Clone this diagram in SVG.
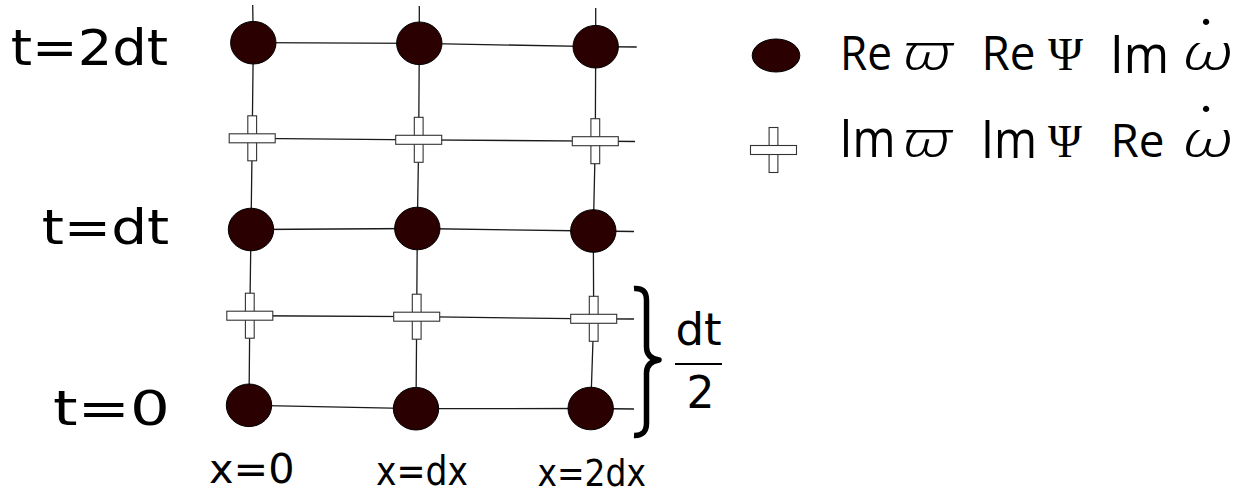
<svg xmlns="http://www.w3.org/2000/svg" width="1249" height="493" viewBox="0 0 1249 493">
<style>
.ln{stroke:#1a1a1a;stroke-width:1.3;fill:none}
.dot{fill:#2a0000;stroke:#000;stroke-width:1}
.bar{fill:#fff;stroke:#333;stroke-width:1.1}
.lbl{font-family:"DejaVu Sans",sans-serif;fill:#000}
.lg{font-family:"Open Sans","DejaVu Sans",sans-serif;fill:#000}
.vp{font-family:"Noto Sans","DejaVu Sans",sans-serif;font-weight:300;font-style:italic;fill:#000}
.mu{font-family:"Liberation Serif","DejaVu Serif",serif;fill:#000}
</style>
<defs>
<g id="cross">
<rect class="bar" x="-4.4" y="-22.5" width="8.8" height="45"/>
<rect class="bar" x="-23" y="-4.5" width="46" height="9"/>
</g>
</defs>
<rect width="1249" height="493" fill="#fff"/>
<g id="connectors">
<polyline class="ln" points="252.7,5 253.3,42.7 252.2,138.3 251,229.5 249.8,315.7 249,405.3"/>
<polyline class="ln" points="419.3,6 419.3,43.3 418.7,139.8 417.3,228.5 416.7,316.7 416,408.7"/>
<polyline class="ln" points="595.7,8 595.7,46.7 595.3,141.2 593.3,231 593.7,318.8 590.7,408.5"/>
<polyline class="ln" points="253.3,42.7 419.3,43.3 595.7,46.7 636.7,47"/>
<polyline class="ln" points="252.2,138.3 418.7,139.8 595.3,141.2 635,141.5"/>
<polyline class="ln" points="251,229.5 417.3,228.5 593.3,231 634,231.5"/>
<polyline class="ln" points="249.8,315.7 416.7,316.7 593.7,318.8 634,319"/>
<polyline class="ln" points="249,405.3 416,408.7 590.7,408.5 634,409"/>
</g>
<g id="n-a1"><ellipse class="dot" cx="253.3" cy="42.7" rx="22.7" ry="21.3"/></g>
<g id="n-a2"><ellipse class="dot" cx="419.3" cy="43.3" rx="22.7" ry="21.3"/></g>
<g id="n-a3"><ellipse class="dot" cx="595.7" cy="46.7" rx="22.7" ry="21.3"/></g>
<g id="n-ab1"><use href="#cross" x="252.2" y="138.3"/></g>
<g id="n-ab2"><use href="#cross" x="418.7" y="139.8"/></g>
<g id="n-ab3"><use href="#cross" x="595.3" y="141.2"/></g>
<g id="n-b1"><ellipse class="dot" cx="251" cy="229.5" rx="22.7" ry="21.3"/></g>
<g id="n-b2"><ellipse class="dot" cx="417.3" cy="228.5" rx="22.7" ry="21.3"/></g>
<g id="n-b3"><ellipse class="dot" cx="593.3" cy="231" rx="22.7" ry="21.3"/></g>
<g id="n-bc1"><use href="#cross" x="249.8" y="315.7"/></g>
<g id="n-bc2"><use href="#cross" x="416.7" y="316.7"/></g>
<g id="n-bc3"><use href="#cross" x="593.7" y="318.8"/></g>
<g id="n-c1"><ellipse class="dot" cx="249" cy="405.3" rx="22.7" ry="21.3"/></g>
<g id="n-c2"><ellipse class="dot" cx="416" cy="408.7" rx="22.7" ry="21.3"/></g>
<g id="n-c3"><ellipse class="dot" cx="590.7" cy="408.5" rx="22.7" ry="21.3"/></g>
<g id="time-labels">
<text class="lbl" x="10.7" y="65" font-size="50" textLength="157.5" lengthAdjust="spacingAndGlyphs">t=2dt</text>
<text class="lbl" x="41.7" y="244" font-size="48" textLength="127.5" lengthAdjust="spacingAndGlyphs">t=dt</text>
<text class="lbl" x="53" y="425" font-size="48" textLength="117" lengthAdjust="spacingAndGlyphs">t=0</text>
</g>
<g id="space-labels">
<text class="lbl" x="209" y="483" font-size="41" textLength="85.5" lengthAdjust="spacingAndGlyphs">x=0</text>
<text class="lbl" x="376" y="484.5" font-size="41" textLength="92" lengthAdjust="spacingAndGlyphs">x=dx</text>
<text class="lbl" x="537.5" y="485.5" font-size="38" textLength="108.5" lengthAdjust="spacingAndGlyphs">x=2dx</text>
</g>
<g id="brace">
<path d="M634,288.5 Q646.5,287.5 646.5,300 L646.5,347 Q646.5,358 659,360 Q646.5,362 646.5,373 L646.5,423 Q646.5,436 634,435.5" fill="none" stroke="#000" stroke-width="5.5" stroke-linejoin="round"/>
<text class="lbl" x="675.5" y="345" font-size="45">dt</text>
<line x1="675" y1="364" x2="722" y2="364" stroke="#000" stroke-width="2"/>
<text class="lbl" x="686.5" y="408.3" font-size="44">2</text>
</g>
<g id="legend-dot">
<ellipse class="dot" cx="776" cy="55.5" rx="23.8" ry="16.5"/>
<text class="lg" x="840" y="70" font-size="48" textLength="52" lengthAdjust="spacingAndGlyphs">Re</text>
<text class="vp" x="902" y="70" font-size="50" textLength="50" lengthAdjust="spacingAndGlyphs">ϖ</text>
<text class="lg" x="981.5" y="70" font-size="47" textLength="54" lengthAdjust="spacingAndGlyphs">Re</text>
<text class="mu" x="1048" y="70" font-size="46" textLength="35" lengthAdjust="spacingAndGlyphs">Ψ</text>
<text class="lg" x="1110" y="72.5" font-size="53" textLength="59" lengthAdjust="spacingAndGlyphs">Im</text>
<text class="vp" x="1182" y="70" font-size="49" textLength="51" lengthAdjust="spacingAndGlyphs">ω</text>
<text class="mu" x="1206" y="58" font-size="60" text-anchor="middle">˙</text>
</g>
<g id="legend-cross">
<use href="#cross" x="773.5" y="150"/>
<text class="lg" x="839.5" y="157" font-size="53" textLength="56" lengthAdjust="spacingAndGlyphs">Im</text>
<text class="vp" x="902" y="156.7" font-size="50" textLength="49" lengthAdjust="spacingAndGlyphs">ϖ</text>
<text class="lg" x="981" y="157.5" font-size="53" textLength="56" lengthAdjust="spacingAndGlyphs">Im</text>
<text class="mu" x="1048" y="156.7" font-size="46" textLength="34" lengthAdjust="spacingAndGlyphs">Ψ</text>
<text class="lg" x="1110.5" y="156.7" font-size="46" textLength="54" lengthAdjust="spacingAndGlyphs">Re</text>
<text class="vp" x="1182" y="156.7" font-size="49" textLength="51" lengthAdjust="spacingAndGlyphs">ω</text>
<text class="mu" x="1206" y="145" font-size="60" text-anchor="middle">˙</text>
</g>
</svg>
